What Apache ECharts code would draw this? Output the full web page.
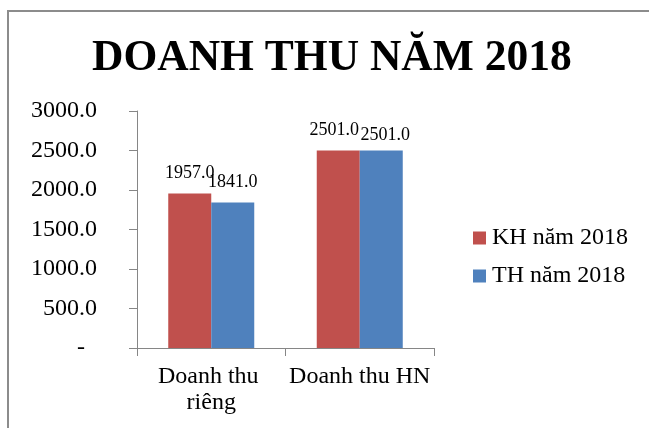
<!DOCTYPE html>
<html>
<head>
<meta charset="utf-8">
<title>DOANH THU NĂM 2018</title>
<script src="https://cdn.jsdelivr.net/npm/echarts@6/dist/echarts.min.js"></script>
<style>
	html, body { margin: 0; padding: 0; background: #fff; }
	#chart { width: 649px; height: 428px; }
</style>
</head>
<body>
<div id="chart"></div>
<script>
// data
var categories = ['Doanh thu riêng', 'Doanh thu HN'];
var seriesNames = ['KH năm 2018', 'TH năm 2018'];
var khValues = [1957.0, 2501.0];
var thValues = [1841.0, 2501.0];
var yTicks = [0, 500, 1000, 1500, 2000, 2500, 3000];

var serif = "'Times New Roman', 'Liberation Serif', serif";
var axisGray = '#868686';

var chart = echarts.init(document.getElementById('chart'));

// Excel pushed the two labels of the second group apart a little
function nudge(values, offset) {
	return values.map(function (v, i) {
		return i === 1 ? { value: v, label: { offset: offset } } : v;
	});
}

var option = {
	animation: false,
	backgroundColor: '#fff',
	graphic: [{
		type: 'rect',
		shape: { x: 8, y: 11, width: 700, height: 500 },
		style: { fill: 'none', stroke: '#8c8c8c', lineWidth: 2 },
		silent: true
	}],
	title: {
		text: 'DOANH THU NĂM 2018',
		left: 87,
		top: 32,
		textStyle: {
			fontFamily: serif,
			fontWeight: 'bold',
			fontSize: 43.5,
			color: '#000'
		}
	},
	legend: {
		orient: 'vertical',
		left: 473,
		top: 226,
		padding: 0,
		itemWidth: 13,
		itemHeight: 13,
		itemGap: 14,
		icon: 'rect',
		data: seriesNames,
		textStyle: {
			fontFamily: serif,
			fontSize: 24,
			lineHeight: 24,
			color: '#000',
			padding: [0, 0, 0, 1]
		}
	},
	grid: {
		left: 137,
		top: 111,
		width: 297,
		height: 237,
		containLabel: false
	},
	xAxis: {
		type: 'category',
		data: categories,
		axisLine: { lineStyle: { color: axisGray, width: 1 } },
		axisTick: { show: true, length: 8, lineStyle: { color: axisGray } },
		axisLabel: {
			fontFamily: serif,
			fontSize: 24,
			lineHeight: 26,
			color: '#000',
			margin: 16,
			width: 148,
			overflow: 'break',
			interval: 0
		}
	},
	yAxis: {
		type: 'value',
		min: yTicks[0],
		max: yTicks[yTicks.length - 1],
		interval: yTicks[1] - yTicks[0],
		axisLine: { show: true, lineStyle: { color: axisGray, width: 1 } },
		axisTick: { show: true, length: 8, lineStyle: { color: axisGray } },
		splitLine: { show: false },
		axisLabel: {
			fontFamily: serif,
			fontSize: 24,
			color: '#000',
			margin: 40,
			formatter: function (v) {
				return v === 0 ? '{d|-}' : v.toFixed(1);
			},
			rich: {
				d: { fontFamily: serif, fontSize: 24, color: '#000', padding: [0, 12, 0, 0] }
			}
		}
	},
	series: [
		{
			name: seriesNames[0],
			type: 'bar',
			data: nudge(khValues, [-4, 0]),
			barWidth: 43,
			barGap: '0%',
			itemStyle: { color: '#C0504D' },
			label: {
				show: true,
				position: 'top',
				distance: 11,
				fontFamily: serif,
				fontSize: 18,
				color: '#000',
				formatter: function (p) { return p.value.toFixed(1); }
			}
		},
		{
			name: seriesNames[1],
			type: 'bar',
			data: nudge(thValues, [4, 5]),
			barWidth: 43,
			barGap: '0%',
			itemStyle: { color: '#4F81BD' },
			label: {
				show: true,
				position: 'top',
				distance: 11,
				fontFamily: serif,
				fontSize: 18,
				color: '#000',
				formatter: function (p) { return p.value.toFixed(1); }
			}
		}
	]
};

chart.setOption(option);
</script>
</body>
</html>
